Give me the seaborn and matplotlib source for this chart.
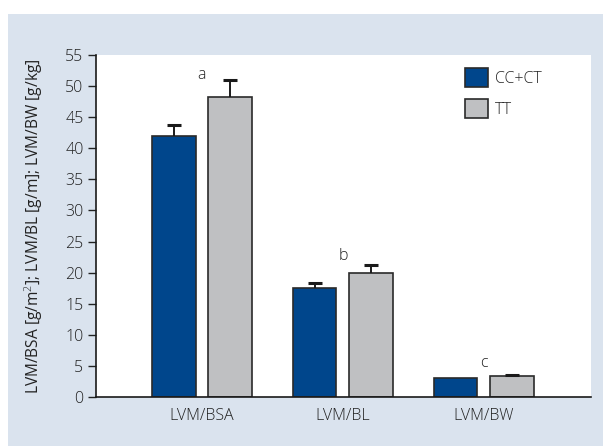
import numpy as np
import pandas as pd
import seaborn as sns
import matplotlib
matplotlib.use("Agg")
import matplotlib.pyplot as plt
from matplotlib.patches import Rectangle

# Left ventricular mass indices by genotype group
categories = ["LVM/BSA", "LVM/BL", "LVM/BW"]
groups = ["CC+CT", "TT"]
mean_cc_ct = [42.0, 17.6, 3.1]
mean_tt = [48.3, 20.0, 3.3]
sem_cc_ct = [1.7, 0.8, 0.0]
sem_tt = [2.7, 1.2, 0.3]
sig_letters = ["a", "b", "c"]
sig_heights = [51.8, 22.6, 5.5]

df = pd.DataFrame({
    "index": categories * 2,
    "group": [groups[0]] * 3 + [groups[1]] * 3,
    "value": mean_cc_ct + mean_tt,
    "sem": sem_cc_ct + sem_tt,
})

sns.set_theme(style="ticks")
plt.rcParams["font.family"] = ["Open Sans", "DejaVu Sans"]
plt.rcParams["font.weight"] = "light"
plt.rcParams["mathtext.fontset"] = "custom"
plt.rcParams["mathtext.rm"] = "Open Sans:light"
plt.rcParams["mathtext.it"] = "Open Sans:italic:light"

FS = 11.5
TXT = "#222222"

W, H = 603, 446
fig = plt.figure(figsize=(W / 100, H / 100), dpi=100)
fig.patch.set_facecolor("white")
# light-blue panel behind the chart
fig.patches.append(Rectangle((8 / W, 0), 1 - 8 / W, 1 - 14 / H,
                             transform=fig.transFigure, facecolor="#dae3ee",
                             edgecolor="none", zorder=-10))

ax = fig.add_axes([96 / W, (H - 397) / H, (591 - 96) / W, (397 - 55) / H])
ax.set_facecolor("white")

palette = {"CC+CT": "#00468c", "TT": "#bfc0c2"}
sns.barplot(data=df, x="index", y="value", hue="group", order=categories,
            hue_order=groups, palette=palette, errorbar=None, width=0.8,
            gap=0.23, edgecolor="#2a2a2a", linewidth=1.2, saturation=1,
            ax=ax)

# upper-only error bars from the SEM column, placed on each drawn bar
for container, g in zip(ax.containers, groups):
    sub = df[df["group"] == g].set_index("index").loc[categories]
    for bar, m, s in zip(container.patches, sub["value"], sub["sem"]):
        if s <= 0:
            continue
        xc = bar.get_x() + bar.get_width() / 2
        _, caps, _ = ax.errorbar(xc, m, yerr=[[0], [s]], fmt="none",
                                 ecolor="#1a1a1a", elinewidth=1.4, capsize=5,
                                 capthick=2.2, zorder=1)
        caps[0].set_visible(False)

for i, (lab, h) in enumerate(zip(sig_letters, sig_heights)):
    ax.text(i, h, lab, ha="center", va="center", fontsize=FS, color=TXT)

ax.set_ylim(0, 55)
ax.set_xlim(-0.752, 2.76)
ax.set_yticks(np.arange(0, 56, 5))
ax.set_xlabel("")
ax.set_ylabel("LVM/BSA [g/m$^2$]; LVM/BL [g/m]; LVM/BW [g/kg]",
              fontsize=11.2, color=TXT)
ax.yaxis.set_label_coords(-0.103, 0.5)
ax.tick_params(axis="y", length=6, width=1, labelsize=FS, pad=3, colors=TXT)
ax.tick_params(axis="x", length=0, labelsize=FS, pad=8, colors=TXT)
for side in ["top", "right"]:
    ax.spines[side].set_visible(False)
for side in ["left", "bottom"]:
    ax.spines[side].set_linewidth(1.2)
    ax.spines[side].set_color("#1a1a1a")

leg = ax.legend(loc="upper left", bbox_to_anchor=(465 / W, 1 - 68 / H),
                bbox_transform=fig.transFigure, frameon=False, borderpad=0,
                borderaxespad=0, handlelength=1.45, handleheight=1.45,
                handletextpad=0.45, labelspacing=0.75, fontsize=FS)
for t in leg.get_texts():
    t.set_color(TXT)

fig.savefig("out.png", dpi=100)
